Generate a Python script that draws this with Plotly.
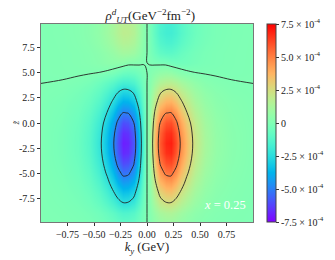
import numpy as np
import plotly.graph_objects as go

# ---- data (values in units of 1e-4 GeV^-2 fm^-2), k_y >= 0 half; field is odd in k_y ----
ky_half = [0.025, 0.075, 0.125, 0.175, 0.225, 0.275, 0.325, 0.375, 0.45, 0.55, 0.65, 0.8, 1.0]
z_rows = [-10, -9, -8, -7, -6, -5, -4, -3, -2, -1, 0, 1, 2, 3, 4, 5, 6, 7, 8, 9, 10]
rho_half = [
    [0.13, 0.44, 0.70, 0.81, 0.83, 0.72, 0.56, 0.42, 0.26, 0.14, 0.08, 0.03, 0.01],
    [0.21, 0.73, 1.16, 1.36, 1.39, 1.20, 0.94, 0.70, 0.43, 0.24, 0.13, 0.06, 0.01],
    [0.37, 1.27, 2.03, 2.38, 2.43, 2.11, 1.64, 1.23, 0.76, 0.42, 0.22, 0.10, 0.02],
    [0.50, 1.75, 2.79, 3.26, 3.33, 2.89, 2.25, 1.68, 1.04, 0.57, 0.30, 0.13, 0.03],
    [0.65, 2.26, 3.60, 4.21, 4.30, 3.73, 2.91, 2.17, 1.35, 0.74, 0.39, 0.17, 0.04],
    [0.80, 2.77, 4.42, 5.16, 5.27, 4.58, 3.56, 2.66, 1.65, 0.90, 0.48, 0.21, 0.05],
    [0.92, 3.20, 5.11, 5.98, 6.10, 5.30, 4.13, 3.08, 1.91, 1.05, 0.55, 0.25, 0.06],
    [1.02, 3.53, 5.64, 6.59, 6.72, 5.84, 4.55, 3.40, 2.10, 1.15, 0.61, 0.27, 0.07],
    [1.05, 3.64, 5.81, 6.79, 6.93, 6.02, 4.69, 3.50, 2.17, 1.19, 0.63, 0.28, 0.07],
    [1.01, 3.49, 5.58, 6.52, 6.65, 5.78, 4.50, 3.36, 2.08, 1.14, 0.60, 0.27, 0.07],
    [0.91, 3.17, 5.05, 5.91, 6.03, 5.24, 4.08, 3.05, 1.89, 1.04, 0.55, 0.24, 0.06],
    [0.77, 2.66, 4.24, 4.96, 5.06, 4.39, 3.42, 2.56, 1.58, 0.87, 0.46, 0.20, 0.05],
    [0.60, 2.07, 3.31, 3.87, 3.95, 3.43, 2.67, 2.00, 1.24, 0.68, 0.36, 0.16, 0.04],
    [0.44, 1.53, 2.44, 2.85, 2.91, 2.53, 1.97, 1.47, 0.91, 0.50, 0.26, 0.08, 0.015],
    [0.26, 0.91, 1.45, 1.70, 1.73, 1.51, 1.17, 0.88, 0.54, 0.24, 0.10, 0.017, -0.001],
    [0.105, 0.36, 0.58, 0.68, 0.62, 0.42, 0.23, 0.105, 0.01, -0.036, -0.05, -0.04, -0.01],
    [-0.03, -0.11, -0.17, -0.20, -0.35, -0.42, -0.42, -0.385, -0.26, -0.155, -0.095, -0.048, -0.012],
    [-0.16, -0.55, -0.87, -1.02, -1.04, -0.90, -0.70, -0.53, -0.33, -0.18, -0.10, -0.05, -0.012],
    [-0.23, -0.80, -1.28, -1.49, -1.52, -1.32, -1.03, -0.77, -0.48, -0.26, -0.14, -0.06, -0.015],
    [-0.27, -0.95, -1.51, -1.77, -1.80, -1.57, -1.22, -0.91, -0.56, -0.31, -0.16, -0.07, -0.018],
    [-0.26, -0.91, -1.45, -1.70, -1.73, -1.51, -1.17, -0.88, -0.54, -0.30, -0.16, -0.07, -0.018],
]
unit = 1e-4
cbar_vals = [-7.5e-4, -5e-4, -2.5e-4, 0, 2.5e-4, 5e-4, 7.5e-4]
cbar_text = ["-7.5 × 10<sup>-4</sup>", "-5.0 × 10<sup>-4</sup>", "-2.5 × 10<sup>-4</sup>", "0",
             "2.5 × 10<sup>-4</sup>", "5.0 × 10<sup>-4</sup>", "7.5 × 10<sup>-4</sup>"]
x_ticks = [-0.75, -0.5, -0.25, 0, 0.25, 0.5, 0.75]
x_ticktext = ["−0.75", "−0.50", "−0.25", "0.00", "0.25", "0.50", "0.75"]
y_ticks = [-7.5, -5, -2.5, 0, 2.5, 5, 7.5]
y_ticktext = ["-7.5", "-5.0", "-2.5", "0.0", "2.5", "5.0", "7.5"]

# ---- build full grid by odd symmetry ----
half = np.array(rho_half) * unit
ky = np.concatenate([-np.array(ky_half)[::-1], np.array(ky_half)])
rho = np.hstack([-half[:, ::-1], half])
z = np.array(z_rows, dtype=float)

# matplotlib "rainbow" colormap
def rainbow(t):
    r = min(1, abs(2 * t - 0.5)); g = np.sin(np.pi * t); b = np.cos(np.pi * t / 2)
    return "rgb(%d,%d,%d)" % (round(255 * r), round(255 * max(0, g)), round(255 * max(0, b)))
cscale = [[t, rainbow(t)] for t in np.linspace(0, 1, 33)]

FONT = "Liberation Serif"
fig = go.Figure()
fig.add_trace(go.Heatmap(
    x=ky, y=z, z=rho, zmin=-7.5e-4, zmax=7.5e-4, zsmooth="best", colorscale=cscale,
    colorbar=dict(x=1.066, xanchor="left", xpad=0, y=0.5, yanchor="middle", len=1, lenmode="fraction",
                  ypad=0, thickness=9, outlinewidth=1, outlinecolor="#444", tickvals=cbar_vals,
                  ticktext=cbar_text, ticks="outside", ticklen=3, tickcolor="#333",
                  tickfont=dict(family=FONT, size=10, color="#222")),
))
fig.add_trace(go.Contour(
    x=ky, y=z, z=rho, showscale=False, hoverinfo="skip",
    contours=dict(coloring="none", start=-5e-4, end=5e-4, size=2.5e-4),
    line=dict(color="#222", width=0.9, smoothing=1.0),
))
fig.add_annotation(x=0.74, y=-8.2, xref="x", yref="y", text="<i>x</i> = 0.25", showarrow=False,
                   font=dict(family=FONT, size=12.5, color="white"))
fig.add_annotation(x=-0.12, y=0.5, xref="paper", yref="paper", text="<i>z̃</i>", showarrow=False,
                   textangle=-90, xanchor="center", yanchor="middle",
                   font=dict(family=FONT, size=9, color="#222"))

axis_common = dict(showline=True, mirror=True, linecolor="#777", linewidth=1.3, ticks="outside",
                   ticklen=3, tickcolor="#333", showgrid=False, zeroline=False, automargin=False,
                   tickfont=dict(family=FONT, size=10, color="#222"))
fig.update_xaxes(range=[-1, 1], tickvals=x_ticks, ticktext=x_ticktext, tickangle=0,
                 title=dict(text="<i>k</i><sub><i>y</i></sub> (GeV)", standoff=2,
                            font=dict(family=FONT, size=12.5, color="#222")), **axis_common)
fig.update_yaxes(range=[-9.85, 9.85], tickvals=y_ticks, ticktext=y_ticktext, **axis_common)
# the page body adds an 8px margin, so the figure is 8px smaller and its margins shifted
fig.update_layout(
    width=327, height=252, margin=dict(l=33, r=82, t=16, b=38, autoexpand=False),
    paper_bgcolor="white", plot_bgcolor="white",
    title=dict(text="<i>ρ</i><sup><i>d</i></sup><sub><i>UT</i></sub>(GeV<sup>−2</sup>fm<sup>−2</sup>)",
               x=0.435, xanchor="center", y=0.988, yanchor="top",
               font=dict(family=FONT, size=13, color="#222")),
    showlegend=False,
)
fig.write_html("out.html")
